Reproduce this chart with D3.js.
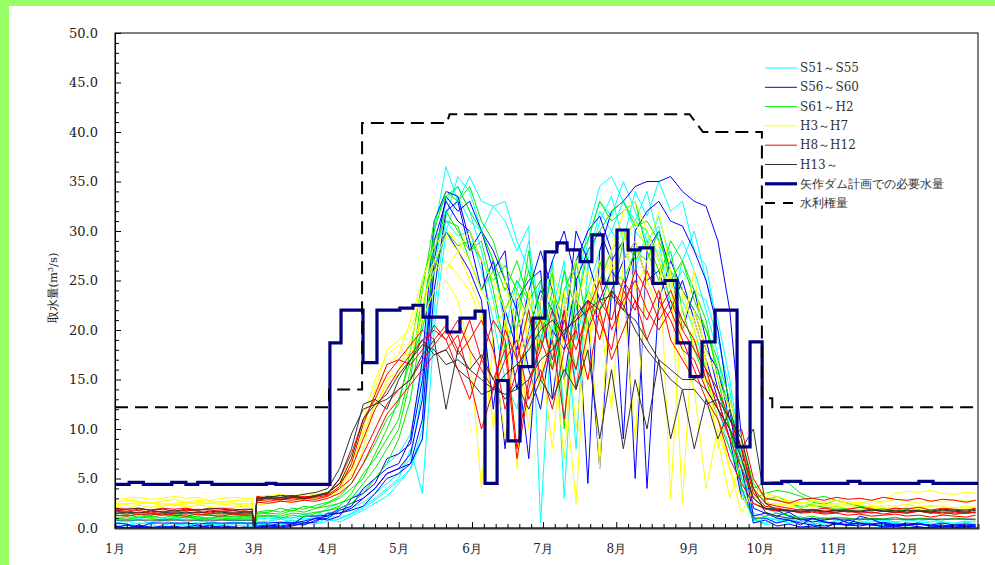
<!DOCTYPE html>
<html>
<head>
<meta charset="utf-8">
<script src="https://cdn.jsdelivr.net/npm/d3@7"></script>
<style>
  body { margin: 0; background: #fff; }
  svg { display: block; font-family: "DejaVu Serif", "Liberation Serif", serif; }
</style>
</head>
<body>
<svg id="chart" width="995" height="565"></svg>
<script>
// 月ラベル
const months = ["1月", "2月", "3月", "4月", "5月", "6月", "7月", "8月", "9月", "10月", "11月", "12月"];
const monthStarts = [0, 31, 59, 90, 120, 151, 181, 212, 243, 273, 304, 334];
const yTicks = [0, 5, 10, 15, 20, 25, 30, 35, 40, 45, 50];

// 取水量の読み取り日 (1/1 からの日数)
const days = d3.range(0, 56, 5).concat([58, 59, 60], d3.range(65, 361, 5), [364]);

// S51～S55
const c1 = [0.8,0.6,0.9,0.5,0.7,1.0,0.6,0.8,0.5,0.9,0.7,0.8, 0.8,0,0.9,
  1.0,0.9,1.1,0.8,1.2,1.5,1.8,2.0,2.6,3.5,4.5, 5.5,7.0,14.0,30.0,36.5,33.0,35.5,33.0,32.5,31.0,28.0,30.5,
  0.5,22.0,27.0,14.0,26.0,31.0,33.5,29.0,34.0,31.5,35.0,32.0,33.0, 28.0,26.5,20.0,12.0,5.0,1.5,
  1.2,0.8,1.0,0.6,0.9,0.5,0.7,0.9,0.4,0.6,0.8,0.5,0.3,0.6,0.5,0.2,0.4,0.5,0.3];
const c2 = [0.3,0.2,0.5,0.4,0.0,0.3,0.5,0.2,0.4,0.3,0.5,0.4, 0.4,0,0.5,
  0.6,0.5,0.8,0.4,0.5,1.0,0.6,1.2,1.8,2.5,3.2, 4.5,6.0,10.0,26.0,33.0,34.5,32.0,28.0,23.0,17.0,24.0,29.0,
  21.0,26.5,3.0,24.0,30.0,34.5,35.5,33.0,30.0,28.5,31.5,27.0,29.0, 26.0,22.0,17.5,10.0,3.5,0.8,
  0.5,1.0,0.7,1.2,0.5,0.3,0.8,0.6,0.4,0.9,0.5,0.6,0.3,0.4,0.7,0.5,0.3,0.6,0.4];
const c3 = [1.0,1.1,0.9,1.2,1.0,0.8,1.1,1.0,0.9,1.2,1.0,1.1, 1.0,0,1.2,
  1.3,1.1,1.0,1.4,1.2,2.0,2.5,3.0,3.8,5.0,6.5, 7.5,9.5,16.0,28.0,31.0,29.5,30.0,26.0,21.0,15.0,12.0,19.0,
  25.0,17.0,24.0,8.0,27.0,32.0,30.0,28.0,26.0,30.0,27.5,25.0,23.0, 20.0,16.0,12.0,8.0,4.0,2.5,
  2.0,1.5,1.2,1.0,0.8,1.1,0.9,0.7,1.0,0.8,0.9,0.6,0.8,0.7,0.9,0.6,0.5,0.7,0.6];
const c4 = [0.5,0.7,0.4,0.6,0.8,0.5,0.3,0.6,0.7,0.4,0.6,0.5, 0.5,0,0.6,
  0.7,0.9,0.6,1.0,0.8,1.2,1.0,1.5,2.2,3.0,4.0, 5.0,8.0,3.5,20.0,30.0,33.5,31.0,30.0,32.5,33.0,29.0,26.0,
  18.0,27.0,11.0,22.0,29.0,33.0,31.5,35.0,32.0,29.0,30.5,24.0,26.0, 24.0,23.0,19.0,14.0,6.0,1.0,
  0.3,0.6,0.9,0.5,0.3,0.7,0.4,0.2,0.5,0.3,0.1,0.3,0.2,0.4,0.1,0.2,0.0,0.3,0.1];
const c5 = [0.1,0.4,0.2,0.0,0.3,0.5,0.2,0.1,0.4,0.2,0.3,0.2, 0.2,0,0.3,
  0.4,0.3,0.6,0.5,0.4,0.7,0.9,1.4,2.0,2.8,3.8, 4.8,6.0,9.0,22.0,31.5,35.5,34.0,30.0,27.0,20.0,25.0,22.0,
  14.0,20.0,26.0,19.0,24.0,28.0,30.0,33.0,31.0,34.0,29.0,22.0,27.0, 30.0,25.0,21.0,15.0,7.0,0.5,
  1.0,0.8,0.5,0.7,0.4,0.6,0.3,0.5,0.7,0.4,0.3,0.5,0.2,0.4,0.3,0.1,0.3,0.2,0.4];

// S56～S60
const b1 = [0.0,0.0,0.0,0.0,0.0,0.0,0.0,0.0,0.0,0.0,0.0,0.0, 0.0,0,0.0,
  0.2,0.5,0.5,0.5,0.6,1.5,1.5,1.8,2.2,3.5,5.0, 5.5,6.5,11.0,27.0,33.5,32.0,33.0,30.0,28.0,25.0,22.0,16.0,
  12.0,20.0,18.0,25.0,4.5,28.0,32.0,33.0,34.5,35.0,35.0,35.5,34.0, 33.0,32.5,29.0,22.0,9.0,2.0,
  1.5,1.0,0.8,0.5,0.3,0.2,0.4,0.3,1.2,0.9,0.4,0.2,0.0,0.1,0.0,0.0,0.0,0.2,0.1];
const b2 = [0.5,0.4,0.0,0.5,0.5,0.5,0.5,0.4,0.5,0.5,0.5,0.5, 0.5,0,0.5,
  0.5,0.6,0.5,0.7,1.0,1.2,2.0,2.5,3.0,4.0,5.5, 6.0,7.5,13.0,29.0,33.0,31.0,30.0,27.0,19.0,8.0,23.0,25.0,
  26.0,13.0,22.0,27.0,30.0,31.5,28.0,9.0,30.0,32.0,33.0,31.0,30.5, 28.0,25.0,20.0,12.0,4.0,1.0,
  1.0,0.5,0.8,0.3,1.0,0.6,0.5,0.3,0.5,0.4,0.6,0.3,0.5,0.4,0.3,0.5,0.3,0.4,0.3];
const b3 = [0.2,0.0,0.3,0.1,0.0,0.2,0.0,0.1,0.2,0.0,0.1,0.0, 0.1,0,0.2,
  0.3,0.2,0.4,0.3,0.8,1.0,1.8,2.2,4.0,5.0,6.0, 6.5,9.0,17.0,31.0,34.0,33.5,29.0,24.0,27.0,21.0,14.0,20.0,
  24.0,22.0,15.0,23.0,21.0,6.0,24.0,27.0,29.0,25.0,26.0,22.0,25.0, 21.0,17.0,13.0,9.0,3.0,2.5,
  2.0,1.8,1.2,0.8,1.0,0.6,0.4,0.8,0.5,0.3,0.2,0.4,0.3,0.5,0.2,0.3,0.1,0.2,0.3];
const b4 = [0.0,0.3,0.1,0.0,0.2,0.0,0.1,0.3,0.0,0.2,0.1,0.0, 0.0,0,0.1,
  0.2,0.1,0.3,1.2,1.2,1.3,1.5,2.0,3.0,4.0,5.5, 6.0,6.5,9.0,24.0,32.0,33.0,28.0,30.0,26.0,28.0,17.0,7.0,
  23.0,27.0,30.0,25.0,28.0,30.0,27.0,29.0,5.0,28.0,30.0,26.0,20.0, 24.0,19.0,14.0,10.0,6.0,0.5,
  0.8,0.2,0.4,0.1,0.2,0.0,0.5,0.3,0.2,0.4,0.1,0.2,0.3,0.1,0.0,0.2,0.1,0.0,0.2];
const b5 = [0.0,0.0,0.2,0.0,0.0,0.1,0.0,0.0,0.3,0.0,0.0,0.1, 0.0,0,0.0,
  0.1,0.0,0.2,0.5,1.0,0.8,1.2,3.0,3.5,4.5,7.0, 7.5,8.5,15.0,26.0,30.0,28.0,26.0,23.0,12.0,22.0,18.0,24.0,
  28.0,24.0,19.0,30.0,27.0,23.0,26.0,24.0,28.0,4.0,23.0,27.0,24.0, 22.0,18.0,16.0,11.0,8.0,1.2,
  1.5,1.2,1.6,0.9,0.6,0.8,1.0,0.5,0.4,0.3,0.5,0.2,0.3,0.4,0.2,0.1,0.3,0.2,0.1];

// S61～H2
const g1 = [1.3,1.2,1.4,1.1,1.3,1.2,1.0,1.2,1.3,1.1,1.2,1.3, 1.2,0,1.4,
  1.5,1.4,1.8,1.6,2.0,2.2,2.5,3.0,4.5,6.0,8.0, 10.0,15.0,24.0,31.0,33.5,34.5,32.0,30.0,27.0,24.0,27.0,23.0,
  25.0,19.0,26.0,22.0,28.0,30.0,32.0,33.0,30.5,31.0,29.0,26.0,24.0, 22.0,20.0,16.0,12.0,7.0,4.0,
  4.6,4.7,4.5,3.5,3.0,3.2,2.8,2.5,2.2,2.0,1.8,2.0,1.6,1.8,1.5,1.7,1.4,1.6,1.5];
const g2 = [1.0,0.9,1.1,1.0,0.8,1.0,1.1,0.9,1.0,1.0,0.9,1.0, 1.0,0,1.1,
  1.2,1.0,1.3,1.1,1.5,1.8,2.2,3.5,5.5,7.0,9.0, 11.0,16.0,22.0,28.0,32.0,30.0,28.0,29.0,24.0,18.0,22.0,26.0,
  22.0,16.0,24.0,27.0,20.0,25.0,28.0,30.0,27.0,29.0,26.0,28.0,22.0, 18.0,15.0,11.0,8.0,5.0,3.0,
  3.5,3.8,3.6,3.2,2.6,2.4,2.8,2.5,2.2,2.0,1.9,1.8,2.0,1.7,1.8,1.6,1.7,1.5,1.6];
const g3 = [1.5,1.4,1.6,1.3,1.5,1.4,1.5,1.6,1.4,1.5,1.3,1.4, 1.4,0,1.5,
  1.6,2.0,1.7,2.2,2.0,2.5,3.0,4.0,5.0,7.5,10.0, 13.0,17.0,20.0,26.0,30.0,28.5,29.0,27.0,25.0,26.5,24.0,21.0,
  18.0,23.0,15.0,20.0,24.0,22.0,26.0,25.0,28.0,27.0,30.0,25.0,27.0, 23.0,20.0,17.0,13.0,9.0,4.5,
  3.0,2.8,2.5,2.2,2.4,2.0,2.2,1.9,2.1,1.8,2.0,1.7,1.9,1.8,1.6,1.8,1.7,1.9,1.8];
const g4 = [1.2,1.3,1.1,1.2,1.0,1.3,1.2,1.1,1.0,1.2,1.1,1.2, 1.1,0,1.2,
  1.3,1.2,1.5,1.4,1.6,1.8,2.0,2.5,3.5,5.0,6.5, 9.0,13.0,21.0,30.0,34.0,33.0,34.5,31.0,29.0,25.0,20.0,28.0,
  20.0,26.0,10.0,27.0,29.0,33.0,31.0,32.0,33.0,28.0,25.0,29.0,27.0, 24.0,21.0,15.0,10.0,4.0,0.8,
  1.2,1.5,1.3,1.0,1.2,0.9,1.1,1.0,0.8,1.0,0.9,1.1,0.8,1.0,0.9,0.8,1.0,0.9,0.8];
const g5 = [1.4,1.6,1.3,1.5,1.4,1.2,1.5,1.3,1.4,1.6,1.4,1.5, 1.5,0,1.6,
  1.8,1.6,2.0,1.9,2.3,2.6,3.2,4.5,6.5,8.5,11.0, 12.5,18.0,25.0,29.0,31.0,30.5,27.0,24.0,26.0,22.0,25.0,23.0,
  19.0,24.0,21.0,16.0,22.0,27.0,23.0,29.0,31.0,30.0,27.0,23.0,21.0, 19.0,16.0,14.0,10.0,6.0,3.5,
  2.8,3.2,2.6,2.0,2.3,2.1,1.9,2.0,1.8,1.7,1.9,1.6,1.8,1.7,1.5,1.6,1.7,1.5,1.6];

// H3～H7
const y1 = [2.8,3.0,3.1,2.9,3.0,3.2,3.0,3.1,2.8,3.0,3.1,3.0, 3.0,0,3.2,
  3.3,3.4,3.2,3.5,3.4,3.6,4.5,7.0,11.0,15.0,17.5, 18.5,17.0,22.0,27.0,29.5,28.0,30.0,27.0,25.0,22.0,6.0,24.0,
  20.0,25.0,15.0,2.5,22.0,27.0,26.0,29.0,31.0,28.0,32.0,26.0,2.5, 22.0,18.0,15.0,12.0,8.0,4.0,
  3.5,3.2,2.8,2.5,2.7,2.6,2.8,2.5,2.6,2.4,2.7,3.5,3.7,3.6,3.8,3.5,3.4,3.6,3.5];
const y2 = [2.3,2.5,2.4,2.6,2.5,2.3,2.4,2.6,2.5,2.4,2.3,2.5, 2.4,0,2.6,
  2.8,3.0,2.9,3.1,3.3,3.5,4.0,6.0,9.0,12.0,15.0, 16.0,19.0,23.0,26.0,27.0,25.5,24.0,21.0,18.0,9.0,20.0,23.0,
  18.0,8.0,21.0,24.0,17.0,26.0,28.0,30.0,24.0,27.0,29.0,3.0,24.0, 20.0,14.0,9.0,3.0,7.0,5.0,
  3.0,2.8,2.5,2.3,2.2,2.4,2.1,2.3,2.0,2.2,2.1,1.9,2.1,2.0,2.2,1.9,2.1,2.0,2.1];
const y3 = [2.6,2.8,2.7,2.5,2.7,2.9,2.6,2.8,2.7,2.6,2.8,2.7, 2.7,0,2.9,
  3.0,2.8,3.2,3.1,3.4,3.3,3.8,5.0,8.0,13.0,16.5, 17.5,21.0,25.0,28.5,30.0,29.0,27.0,24.0,22.0,25.0,20.0,10.0,
  23.0,26.0,22.0,27.0,24.0,6.0,28.0,32.0,33.0,30.0,27.0,24.0,20.0, 26.0,16.0,11.0,6.0,3.0,2.5,
  2.2,2.5,2.3,2.6,2.4,2.2,2.5,2.3,2.4,2.1,2.3,2.2,2.4,2.1,2.3,2.2,2.0,2.2,2.1];
const y4 = [2.2,2.0,2.3,2.1,2.2,2.4,2.1,2.3,2.2,2.0,2.1,2.2, 2.1,0,2.3,
  2.5,2.7,2.6,2.9,3.0,3.2,3.5,5.5,10.0,14.0,18.0, 19.0,20.0,24.0,27.0,26.0,28.0,25.0,22.0,10.0,21.0,17.0,20.0,
  22.0,19.0,7.0,23.0,26.0,22.0,12.0,27.0,29.0,25.0,22.0,26.0,18.0, 14.0,4.0,10.0,6.0,1.5,4.0,
  2.6,2.4,2.2,2.0,2.2,1.9,2.1,2.0,1.8,2.0,1.9,2.1,1.8,2.0,1.9,1.7,1.9,1.8,2.0];
const y5 = [2.5,2.4,2.6,2.5,2.3,2.5,2.6,2.4,2.5,2.7,2.5,2.4, 2.5,0,2.7,
  2.9,3.1,3.0,3.2,3.1,3.4,4.0,6.5,9.5,12.5,14.5, 15.5,18.0,21.0,24.0,25.0,23.0,18.0,4.0,20.0,22.0,24.0,19.0,
  14.0,21.0,24.0,10.0,21.0,25.0,27.0,24.0,9.0,26.0,28.0,25.0,22.0, 21.0,17.0,8.0,13.0,9.0,3.0,
  3.2,2.9,2.7,2.5,2.8,2.6,2.4,2.7,2.5,2.8,2.6,2.9,2.7,2.5,2.8,2.6,2.9,2.7,2.8];

// H8～H12
const r1 = [1.8,1.7,1.9,1.8,1.6,1.8,1.7,1.9,1.8,1.7,1.8,1.6, 1.7,0,3.2,
  3.0,2.8,3.1,2.9,3.2,3.5,4.5,6.0,9.0,12.0,14.0, 16.0,17.5,19.0,20.0,19.0,21.0,18.0,16.0,14.0,20.0,17.0,22.0,
  15.0,19.0,11.0,21.0,23.0,19.0,24.0,22.0,26.0,24.0,21.0,23.0,20.0, 18.0,16.0,14.0,11.0,8.0,4.0,
  2.5,2.2,2.0,1.8,1.9,1.7,1.8,1.6,1.7,1.5,1.7,1.6,1.5,1.7,1.6,1.4,1.6,1.5,1.6];
const r2 = [1.5,1.4,1.6,1.5,1.3,1.5,1.4,1.6,1.5,1.4,1.5,1.4, 1.5,0,2.8,
  2.7,2.9,2.8,3.0,2.9,3.2,4.0,5.0,7.5,10.0,12.5, 14.0,15.0,17.0,18.5,20.0,17.5,19.0,21.0,18.0,12.0,16.0,19.0,
  21.0,17.0,22.0,14.0,20.0,23.0,21.0,25.0,23.0,21.0,24.0,19.0,17.0, 15.0,16.0,12.0,9.0,10.0,5.0,
  3.0,2.8,2.5,2.9,3.0,2.8,3.1,2.9,3.0,2.8,3.1,2.9,2.8,3.0,2.7,2.9,2.8,2.6,2.8];
const r3 = [2.0,1.9,2.0,1.8,2.0,1.9,2.0,1.8,1.9,2.0,1.9,1.8, 1.9,0,3.0,
  3.1,3.0,3.2,3.1,3.3,3.4,5.0,7.5,11.0,13.0,15.5, 17.0,16.5,18.0,20.5,19.0,16.0,13.0,17.0,21.0,19.0,8.0,15.0,
  18.0,22.0,19.0,16.0,23.0,21.0,18.0,24.0,22.0,26.0,23.0,21.0,18.0, 17.0,14.0,12.0,10.0,8.0,3.5,
  2.2,2.0,1.8,1.5,1.6,1.4,1.5,1.3,1.4,1.2,1.3,1.4,1.2,1.3,1.1,1.3,1.2,1.1,1.3];
const r4 = [1.3,1.2,1.4,1.3,1.5,1.3,1.2,1.4,1.3,1.2,1.4,1.3, 1.3,0,2.6,
  2.5,2.7,2.6,2.8,2.7,3.0,3.5,4.5,6.5,9.0,11.5, 13.0,14.5,16.0,17.5,18.0,19.5,15.0,10.0,14.0,17.0,19.0,13.0,
  16.0,12.0,18.0,20.0,15.0,22.0,17.0,20.0,23.0,19.0,22.0,24.0,21.0, 19.0,15.0,13.0,9.0,6.0,3.0,
  2.0,1.8,1.7,1.9,1.8,2.0,1.8,1.9,2.1,1.9,1.8,2.0,1.9,2.1,1.8,2.0,1.9,1.8,2.0];
const r5 = [1.7,1.6,1.8,1.5,1.7,1.6,1.8,1.7,1.5,1.7,1.6,1.7, 1.6,0,3.1,
  2.9,3.1,3.0,3.2,3.1,3.3,4.2,6.5,10.5,13.5,16.5, 17.0,18.5,20.0,19.0,20.5,18.0,21.0,17.0,15.0,18.0,7.0,14.0,
  19.0,16.0,21.0,18.0,22.0,25.0,20.0,23.0,25.0,22.0,20.0,22.0,19.0, 16.0,13.0,11.0,7.0,4.5,2.5,
  1.9,1.7,1.8,1.6,1.7,1.5,1.6,1.7,1.5,1.6,1.4,1.6,1.5,1.7,1.5,1.6,1.4,1.5,1.6];

// H13～
const k1 = [1.8,1.9,2.0,1.8,1.9,1.7,1.9,1.8,2.0,1.9,1.8,1.9, 1.9,0,3.0,
  3.2,3.1,3.3,3.0,3.2,3.5,5.0,8.0,12.5,13.0,12.0, 15.0,17.0,18.5,18.0,16.5,17.0,16.0,15.0,14.0,13.5,14.0,15.0,
  17.0,18.0,20.0,21.0,22.0,23.0,23.5,22.0,21.0,19.0,17.0,16.0,15.0, 15.0,14.0,12.0,10.0,7.0,3.0,
  2.0,1.9,1.8,1.7,1.8,1.6,1.8,1.7,1.6,1.8,1.7,1.6,1.8,1.7,1.6,1.8,1.7,1.6,1.8];
const k2 = [1.5,1.6,1.5,1.7,1.6,1.5,1.6,1.5,1.7,1.6,1.5,1.6, 1.6,0,2.8,
  3.0,2.9,3.1,3.0,3.3,3.6,4.5,7.0,11.0,12.5,13.0, 14.0,15.0,17.5,19.0,12.0,18.0,16.0,17.5,15.0,13.0,14.5,12.0,
  15.0,13.0,16.0,14.0,18.0,9.0,16.0,8.0,15.0,10.0,17.0,9.0,14.0, 8.0,13.0,9.0,12.0,8.0,10.0,
  2.5,1.8,1.7,1.6,1.8,1.7,1.6,1.8,1.7,1.9,1.7,1.8,1.6,1.8,1.7,1.9,1.8,1.7,1.9];
const k3 = [0.8,0.8,0.8,0.8,0.8,0.8,0.8,0.8,0.8,0.8,0.8,0.8, 0.8,0,2.9,
  3.1,3.3,3.2,3.4,3.6,4.0,6.0,9.5,12.0,12.5,13.5, 15.5,17.0,19.0,17.5,18.0,16.0,15.0,13.5,14.0,15.5,16.5,18.0,
  20.0,21.0,19.5,21.5,23.0,22.0,24.0,22.5,20.0,18.0,16.5,15.0,14.0, 14.0,12.5,13.0,11.0,9.0,4.0,
  1.6,1.2,1.0,0.9,0.9,0.9,0.9,0.9,0.9,0.9,0.9,0.9,0.9,0.9,0.9,0.9,0.9,0.9,0.9];

// 矢作ダム計画での必要水量 (階段状)
const needDays = [0, 6, 12, 24, 30, 35, 41, 64, 68, 90.9, 95.6, 104.9, 110.8, 120.5, 126, 130.3, 140.4, 145.9,
  152.3, 156.5, 161.6, 166.2, 171.3, 176.8, 181.9, 186.9, 191.2, 196.7, 201.7, 206.4, 212.3, 217, 222, 227.5,
  232.6, 237.7, 243.2, 248.3, 253.8, 263.1, 268.6, 273.7, 282, 290, 310, 315, 340, 346, 365];
const needValues = [4.4, 4.6, 4.4, 4.6, 4.4, 4.6, 4.4, 4.5, 4.4, 18.7, 22.0, 16.7, 22.0, 22.2, 22.5, 21.3, 19.8, 21.2,
  21.9, 4.5, 14.9, 8.8, 16.3, 21.2, 27.9, 28.8, 28.1, 26.9, 29.6, 24.7, 30.1, 28.1, 28.3, 24.7,
  25.0, 18.7, 15.3, 18.8, 22.0, 8.2, 18.8, 4.5, 4.7, 4.5, 4.7, 4.5, 4.7, 4.5, 4.5];

// 水利権量
const rightDays = [0, 90.5, 90.5, 104.5, 104.5, 140.4, 141.5, 243, 248.7, 273.6, 273.6, 278, 278, 365];
const rightValues = [12.2, 12.2, 14.0, 14.0, 40.9, 40.9, 41.8, 41.8, 40.0, 40.0, 13.1, 13.1, 12.2, 12.2];

const groupNames = ["S51～S55", "S56～S60", "S61～H2", "H3～H7", "H8～H12", "H13～"];
const groupSeries = [[c1, c2, c3, c4, c5], [b1, b2, b3, b4, b5], [g1, g2, g3, g4, g5],
  [y1, y2, y3, y4, y5], [r1, r2, r3, r4, r5], [k1, k2, k3]];
const groupColors = ["#00ffff", "#0000ff", "#00ee00", "#ffff00", "#ff0000", "#333333"];

// chartSet
const margin = { left: 115, right: 978, top: 33, bottom: 528 };

const svg = d3.select("#chart");

// 外枠 (緑)
svg.append("rect").attr("width", 995).attr("height", 565).attr("fill", "#99ff66");
svg.append("rect").attr("x", 9).attr("y", 6).attr("width", 986).attr("height", 559).attr("fill", "#fff");

const x = d3.scaleLinear().domain([0, 365]).range([margin.left, margin.right]);
const y = d3.scaleLinear().domain([0, 50]).range([margin.bottom, margin.top]);

const plot = svg.append("g");

// 年ごとの取水量
const line = d3.line()
  .x((d, i) => x(days[i]))
  .y((d) => y(d));

groupSeries.forEach((list, gi) => {
  list.forEach((s) => {
    plot.append("path")
      .attr("d", line(s))
      .attr("fill", "none")
      .attr("stroke", groupColors[gi])
      .attr("stroke-width", 1)
      .attr("stroke-linejoin", "round");
  });
});

// 必要水量
const stepLine = d3.line()
  .x((d) => x(d[0]))
  .y((d) => y(d[1]))
  .curve(d3.curveStepAfter);

plot.append("path")
  .attr("d", stepLine(d3.zip(needDays, needValues)))
  .attr("fill", "none")
  .attr("stroke", "#000080")
  .attr("stroke-width", 3.2);

// 水利権量
const plainLine = d3.line()
  .x((d) => x(d[0]))
  .y((d) => y(d[1]));

plot.append("path")
  .attr("d", plainLine(d3.zip(rightDays, rightValues)))
  .attr("fill", "none")
  .attr("stroke", "#000")
  .attr("stroke-width", 2)
  .attr("stroke-dasharray", "13,7");

// 枠
svg.append("rect")
  .attr("x", margin.left).attr("y", margin.top)
  .attr("width", margin.right - margin.left).attr("height", margin.bottom - margin.top)
  .attr("fill", "none").attr("stroke", "#000").attr("stroke-width", 1);

// Y軸
const yAxis = d3.axisRight(y)
  .tickValues(d3.range(0, 51, 1))
  .tickSize(4)
  .tickFormat("");
svg.append("g")
  .attr("transform", `translate(${margin.left},0)`)
  .call(yAxis)
  .call((g) => g.select(".domain").attr("stroke", "#000"))
  .call((g) => g.selectAll(".tick line").attr("x2", (d) => (d % 5 === 0 ? 6 : 4)));

svg.append("g")
  .selectAll("text")
  .data(yTicks)
  .join("text")
  .attr("x", 98)
  .attr("y", (d) => y(d) + 4.5)
  .attr("text-anchor", "end")
  .attr("font-size", 13)
  .attr("fill", "#222")
  .text((d) => d.toFixed(1));

// X軸
const xTickDays = [];
monthStarts.forEach((m, i) => {
  const end = i < 11 ? monthStarts[i + 1] : 365;
  for (let d = m; d < end - 2; d += 5) xTickDays.push(d);
});
const xAxis = d3.axisTop(x).tickValues(xTickDays).tickSize(4).tickFormat("");
svg.append("g")
  .attr("transform", `translate(0,${margin.bottom})`)
  .call(xAxis)
  .call((g) => g.select(".domain").attr("stroke", "#333").attr("stroke-width", 2))
  .call((g) => g.selectAll(".tick line").attr("y2", (d) => (monthStarts.includes(d) ? -6 : -4)));

svg.append("g")
  .selectAll("text")
  .data(months)
  .join("text")
  .attr("x", (d, i) => x(monthStarts[i]))
  .attr("y", 553)
  .attr("text-anchor", "middle")
  .attr("font-size", 12)
  .attr("fill", "#222")
  .text((d) => d);

// Y軸タイトル
const yTitle = svg.append("text")
  .attr("transform", "translate(57,288) rotate(-90)")
  .attr("text-anchor", "middle")
  .attr("font-size", 11.5)
  .attr("fill", "#222");
yTitle.append("tspan").text("取水量(m");
yTitle.append("tspan").attr("baseline-shift", "super").attr("font-size", 8).text("3");
yTitle.append("tspan").text("/s)");

// 凡例
const legendNames = groupNames.concat(["矢作ダム計画での必要水量", "水利権量"]);
const legendColors = groupColors.concat(["#000080", "#000"]);
const legendWidths = [1, 1, 1, 1, 1, 1, 3.2, 2];

const legendGroup = svg.append("g").attr("transform", "translate(765,68)");
legendNames.forEach((name, i) => {
  const row = legendGroup.append("g").attr("transform", `translate(0,${i * 19.3})`);
  row.append("line")
    .attr("x1", 0).attr("x2", 32)
    .attr("stroke", legendColors[i])
    .attr("stroke-width", legendWidths[i])
    .attr("stroke-dasharray", i === 7 ? "10,8" : null);
  row.append("text")
    .attr("x", 35)
    .attr("y", 4)
    .attr("font-size", 12)
    .attr("fill", "#333")
    .text(name);
});
</script>
</body>
</html>
